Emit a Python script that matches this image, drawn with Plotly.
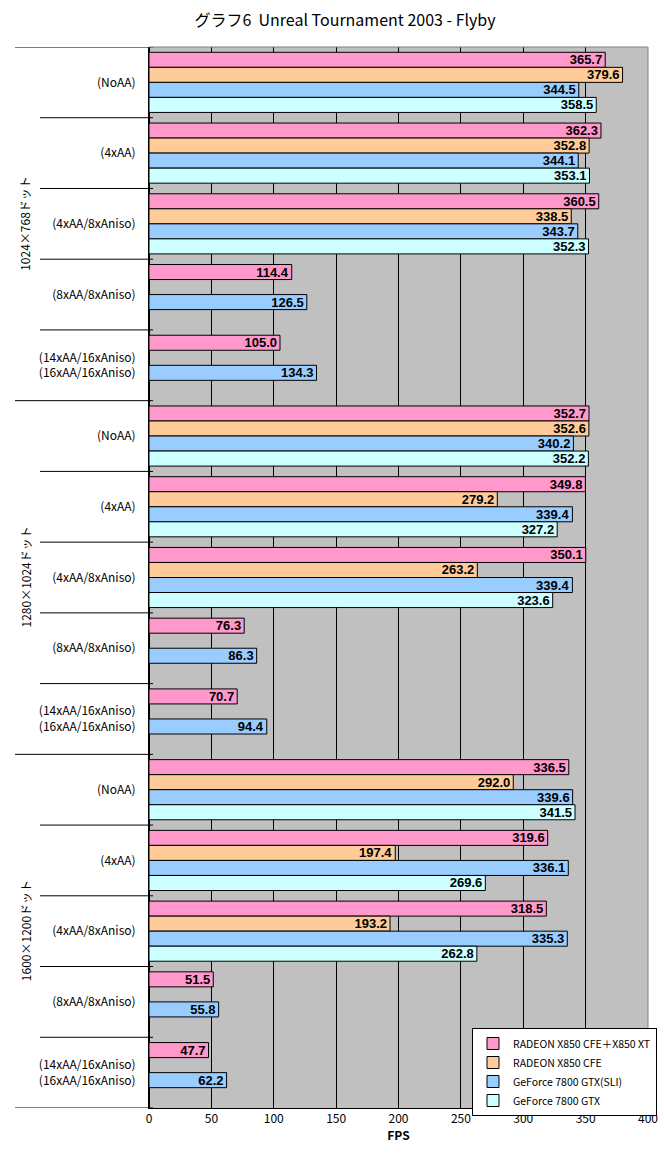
import plotly.graph_objects as go

title = "グラフ6  Unreal Tournament 2003 - Flyby"
resolutions = ["1024×768ドット", "1280×1024ドット", "1600×1200ドット"]
settings = ["(NoAA)", "(4xAA)", "(4xAA/8xAniso)", "(8xAA/8xAniso)",
            "(14xAA/16xAniso)<br>(16xAA/16xAniso)"]
series_names = ["RADEON X850 CFE＋X850 XT", "RADEON X850 CFE",
                "GeForce 7800 GTX(SLI)", "GeForce 7800 GTX"]
colors = ["#FF99CC", "#FFCC99", "#99CCFF", "#CCFFFF"]

radeon_cf_xt = [365.7, 362.3, 360.5, 114.4, 105.0,
                352.7, 349.8, 350.1, 76.3, 70.7,
                336.5, 319.6, 318.5, 51.5, 47.7]
radeon_cf = [379.6, 352.8, 338.5, None, None,
             352.6, 279.2, 263.2, None, None,
             292.0, 197.4, 193.2, None, None]
geforce_sli = [344.5, 344.1, 343.7, 126.5, 134.3,
               340.2, 339.4, 339.4, 86.3, 94.4,
               339.6, 336.1, 335.3, 55.8, 62.2]
geforce = [358.5, 353.1, 352.3, None, None,
           352.2, 327.2, 323.6, None, None,
           341.5, 269.6, 262.8, None, None]
series_values = [radeon_cf_xt, radeon_cf, geforce_sli, geforce]

n_cat = len(resolutions) * len(settings)
ypos = list(range(n_cat))
ticktext = settings * len(resolutions)

fig = go.Figure()
for name, vals, col in zip(series_names, series_values, colors):
    fig.add_trace(go.Bar(
        y=ypos, x=vals, name=name, orientation="h",
        marker=dict(color=col, line=dict(color="black", width=1)),
        text=[("%.1f" % v) if v is not None else "" for v in vals],
        textposition="inside", insidetextanchor="end",
        textfont=dict(family="Liberation Sans Narrow, Liberation Sans, Arial", size=13,
                      color="black", weight="bold"),
        constraintext="none",
    ))

plot_left, plot_right = 149, 648
plot_top, plot_bottom = 47, 1108
pw = plot_right - plot_left
ph = plot_bottom - plot_top
def px2paper(px):
    return (px - plot_left) / pw

shapes = []
for k in range(n_cat + 1):
    is_group = (k % len(settings) == 0)
    shapes.append(dict(type="line", xref="paper", yref="y",
                       x0=px2paper(15 if is_group else 40), x1=px2paper(153),
                       y0=k - 0.5, y1=k - 0.5,
                       line=dict(color="black", width=1)))
shapes.append(dict(type="line", xref="paper", yref="paper", x0=0, x1=1, y0=1, y1=1,
                   line=dict(color="#808080", width=1)))
shapes.append(dict(type="line", xref="paper", yref="paper", x0=1, x1=1, y0=0, y1=1,
                   line=dict(color="#808080", width=1)))

annotations = []
for g, res in enumerate(resolutions):
    center = g * len(settings) + (len(settings) - 1) / 2
    annotations.append(dict(text=res, xref="paper", yref="y", x=px2paper(25), y=center,
                            xanchor="center", yanchor="middle",
                            textangle=-90, showarrow=False,
                            font=dict(size=12, color="black")))

fig.update_layout(
    width=664, height=1154,
    margin=dict(l=plot_left, r=664 - plot_right, t=plot_top, b=1154 - plot_bottom,
                autoexpand=False),
    paper_bgcolor="white", plot_bgcolor="#C0C0C0",
    font=dict(family="Noto Sans CJK JP, sans-serif", size=12, color="black"),
    title=dict(text=title, x=345 / 664, xanchor="center", y=1 - 20 / 1154, yanchor="middle",
               font=dict(size=16, color="black")),
    barmode="group", bargap=0.15, bargroupgap=0,
    showlegend=True,
    legend=dict(x=px2paper(657), y=(plot_bottom - 1028) / ph, xanchor="right", yanchor="top",
                bgcolor="white", bordercolor="black", borderwidth=1,
                font=dict(size=10.5), traceorder="normal", tracegroupgap=0,
                itemwidth=30),
    shapes=shapes, annotations=annotations,
    uniformtext=dict(minsize=13, mode="show"),
)
fig.update_xaxes(range=[0, 400], dtick=50, tick0=0, showgrid=True, gridcolor="black",
                 gridwidth=1, zeroline=True, zerolinecolor="black",
                 showline=True, linecolor="black", linewidth=1, ticks="",
                 tickfont=dict(size=12),
                 title=dict(text="<b>FPS</b>", standoff=0, font=dict(size=12)))
fig.update_yaxes(range=[n_cat - 0.5, -0.5], tickvals=ypos, ticktext=ticktext,
                 showgrid=False, zeroline=False, showline=True, linecolor="black",
                 ticks="", ticklabelstandoff=10, tickfont=dict(size=12))

fig.write_html("out.html")
